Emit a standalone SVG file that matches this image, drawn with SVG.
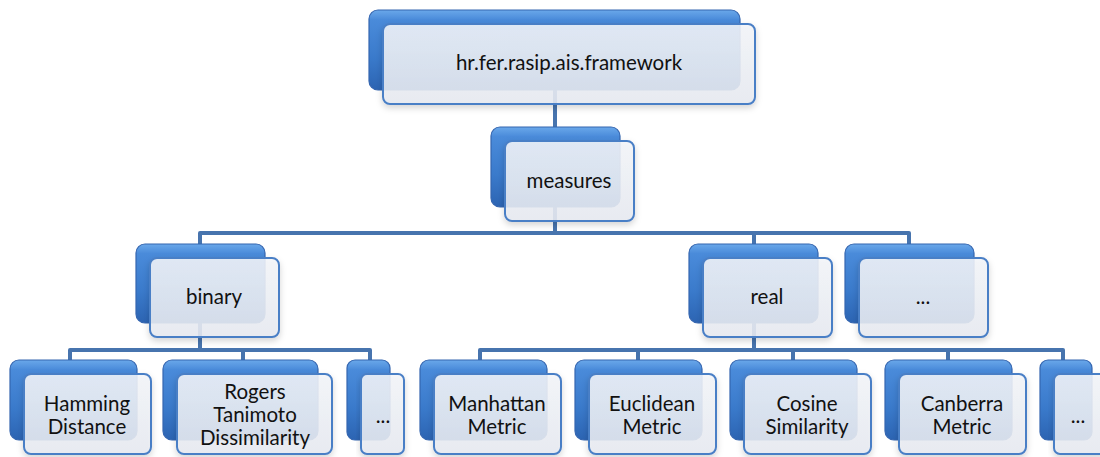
<svg xmlns="http://www.w3.org/2000/svg" width="1100" height="457" viewBox="0 0 1100 457">
<defs>
<linearGradient id="gBack" x1="0" y1="0" x2="0" y2="1">
<stop offset="0" stop-color="#6aa8ea"/>
<stop offset="0.12" stop-color="#4a8bda"/>
<stop offset="0.6" stop-color="#3a7acb"/>
<stop offset="1" stop-color="#2c64b2"/>
</linearGradient>
<linearGradient id="gFront" x1="0" y1="0" x2="0" y2="1">
<stop offset="0" stop-color="#f3f5f9"/>
<stop offset="1" stop-color="#e8ebf1"/>
</linearGradient>
<filter id="sh" x="-10%" y="-10%" width="130%" height="140%">
<feDropShadow dx="0" dy="3" stdDeviation="3" flood-color="#000" flood-opacity="0.18"/>
</filter>
</defs>
<style>
.back{fill:url(#gBack);stroke:#3566b0;stroke-width:1.2}
.front{fill:url(#gFront);fill-opacity:0.88;stroke:#4a7fc6;stroke-width:2;filter:url(#sh)}
.conn{fill:none;stroke:#4774ae;stroke-width:4;stroke-linejoin:round}
text{font-family:"Lato","Open Sans","Liberation Sans",sans-serif;font-size:20.5px;fill:#111;text-anchor:middle}
</style>
<g id="connectors">
<path class="conn" d="M555 90 V130"/>
<path class="conn" d="M555 207 V233 M200 244 V233 H909 V244 M754 233 V244"/>
<path class="conn" d="M200 323 V350 M70 360 V350 H370 V360 M243 350 V360"/>
<path class="conn" d="M754 323 V350 M480 360 V350 H1063 V360 M638 350 V360 M793 350 V360 M948 350 V360"/>
</g>
<g id="n-framework">
<rect class="back" x="369" y="10" width="371" height="80" rx="9"/>
<rect class="front" x="383" y="24" width="372" height="80" rx="7"/>
<text x="569" y="70">hr.fer.rasip.ais.framework</text>
</g>
<g id="n-measures">
<rect class="back" x="491" y="127" width="129" height="80" rx="9"/>
<rect class="front" x="505" y="141" width="129" height="80" rx="7"/>
<text x="569" y="188">measures</text>
</g>
<g id="n-binary">
<rect class="back" x="136" y="244" width="129" height="79" rx="9"/>
<rect class="front" x="150" y="258" width="129" height="79" rx="7"/>
<text x="214" y="304">binary</text>
</g>
<g id="n-real">
<rect class="back" x="689" y="244" width="129" height="79" rx="9"/>
<rect class="front" x="703" y="258" width="129" height="79" rx="7"/>
<text x="767" y="304">real</text>
</g>
<g id="n-more1">
<rect class="back" x="845" y="244" width="129" height="79" rx="9"/>
<rect class="front" x="859" y="258" width="129" height="79" rx="7"/>
<text x="923" y="304">...</text>
</g>
<g id="n-hamming">
<rect class="back" x="10" y="360" width="127" height="80" rx="9"/>
<rect class="front" x="24" y="374" width="127" height="80" rx="7"/>
<text x="87" y="411">Hamming</text>
<text x="87" y="434">Distance</text>
</g>
<g id="n-rogers">
<rect class="back" x="163" y="360" width="155" height="80" rx="9"/>
<rect class="front" x="177" y="374" width="155" height="80" rx="7"/>
<text x="255" y="399">Rogers</text>
<text x="255" y="422">Tanimoto</text>
<text x="255" y="445">Dissimilarity</text>
</g>
<g id="n-more2">
<rect class="back" x="347" y="360" width="43" height="80" rx="8"/>
<rect class="front" x="361" y="374" width="43" height="80" rx="6"/>
<text x="383" y="423">...</text>
</g>
<g id="n-manhattan">
<rect class="back" x="420" y="360" width="127" height="80" rx="9"/>
<rect class="front" x="434" y="374" width="127" height="80" rx="7"/>
<text x="497" y="411">Manhattan</text>
<text x="497" y="434">Metric</text>
</g>
<g id="n-euclidean">
<rect class="back" x="575" y="360" width="127" height="80" rx="9"/>
<rect class="front" x="589" y="374" width="127" height="80" rx="7"/>
<text x="652" y="411">Euclidean</text>
<text x="652" y="434">Metric</text>
</g>
<g id="n-cosine">
<rect class="back" x="730" y="360" width="127" height="80" rx="9"/>
<rect class="front" x="744" y="374" width="127" height="80" rx="7"/>
<text x="807" y="411">Cosine</text>
<text x="807" y="434">Similarity</text>
</g>
<g id="n-canberra">
<rect class="back" x="885" y="360" width="127" height="80" rx="9"/>
<rect class="front" x="899" y="374" width="127" height="80" rx="7"/>
<text x="962" y="411">Canberra</text>
<text x="962" y="434">Metric</text>
</g>
<g id="n-more3">
<rect class="back" x="1040" y="360" width="52" height="80" rx="8"/>
<rect class="front" x="1054" y="374" width="52" height="80" rx="6"/>
<text x="1078" y="423">...</text>
</g>
</svg>
